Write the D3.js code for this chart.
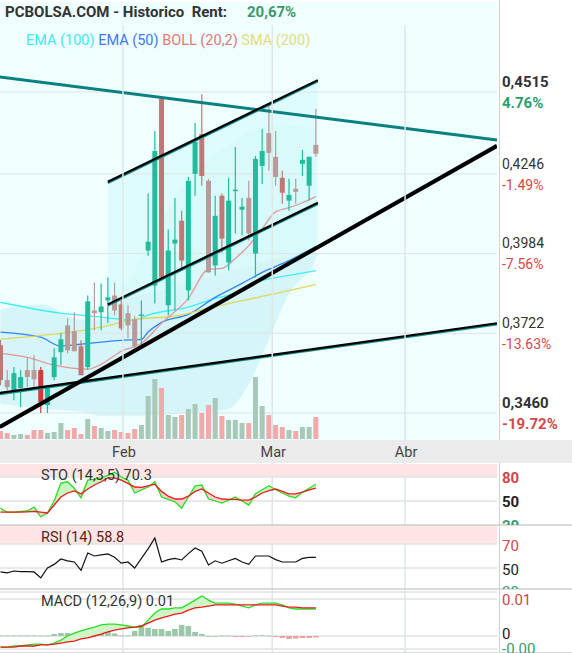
<!DOCTYPE html>
<html><head><meta charset="utf-8">
<script src="https://cdn.jsdelivr.net/npm/d3@7"></script>
<style>body{margin:0;background:#fff}svg{display:block;font-family:Roboto,"Noto Sans",sans-serif}</style>
</head><body><svg id="c" width="572" height="653"></svg>
<script>
// ---- data ----
const opens  = [.3683,.3568,.3535,.3542,.3601,.3601,.3601,.3486,.3578,.3660,.3748,.3729,.3679,.3611,.3797,.3791,.3830,.3846,.3817,.3788,.3768,.3781,.3994,.3879,.4492,.3814,.4017,.4092,.3863,.4246,.4377,.4223,.3945,.4174,.3955,.4190,.4128,.4167,.3984,.4272,.4380,.4302,.4233,.4158,.4197,.4279,.4207,.4341];
const highs  = [.3700,.3601,.3611,.3601,.3643,.3650,.3611,.3552,.3673,.3722,.3771,.3791,.3699,.3846,.3889,.3886,.3905,.3889,.3830,.3814,.3778,.3830,.4181,.4387,.4498,.4063,.4167,.4125,.4236,.4413,.4508,.4230,.4174,.4181,.4233,.4334,.4167,.4223,.4305,.4393,.4475,.4387,.4256,.4230,.4230,.4325,.4302,.4459];
const lows   = [.3551,.3535,.3503,.3480,.3545,.3542,.3460,.3460,.3568,.3617,.3656,.3663,.3591,.3601,.3732,.3732,.3755,.3781,.3732,.3706,.3666,.3683,.3977,.3820,.3895,.3781,.3797,.3935,.3830,.4174,.4207,.3922,.3912,.3987,.3928,.4050,.4043,.4027,.3905,.4213,.4256,.4207,.4148,.4125,.4148,.4239,.4158,.4302];
const closes = [.3568,.3545,.3591,.3578,.3578,.3571,.3496,.3542,.3643,.3702,.3666,.3663,.3584,.3827,.3788,.3810,.3840,.3797,.3738,.3748,.3679,.3784,.4023,.4321,.3905,.3994,.4030,.3961,.4223,.4351,.4239,.3922,.4108,.4033,.4158,.4194,.4138,.4050,.4295,.4321,.4315,.4236,.4184,.4177,.4187,.4292,.4302,.4312];
const volumes = [8,6,4,5,4,9,9,6,7,16,9,11,5,20,13,11,8,9,7,6,10,14,43,60,51,24,22,24,30,35,26,34,41,23,19,19,16,16,62,33,24,14,12,9,8,12,12,22];
// sparse indicator readings [index, price]
const ema100 = [[0,.3824],[9,.3788],[15,.3775],[20,.3765],[22,.3782],[28,.3808],[32,.3837],[35,.3853],[38,.3889],[43,.3912],[47,.3928]];
const ema50  = [[0,.3726],[6,.3709],[9,.3680],[12,.3686],[18,.3699],[21,.3702],[22,.3726],[24,.3758],[28,.3784],[32,.3840],[36,.3886],[39,.3922],[43,.3961],[47,.4007]];
const sma200 = [[0,.3703],[8,.3719],[15,.3742],[20,.3768],[26,.3778],[32,.3810],[39,.3843],[47,.3882]];
const bollMid = [[0,.3656],[4,.3643],[8,.3617],[13,.3604],[15,.3620],[18,.3663],[21,.3689],[24,.3755],[28,.3837],[31,.3932],[33,.3935],[35,.3968],[37,.4010],[39,.4066],[41,.4121],[43,.4135],[45,.4151],[47,.4171]];
const bollUp  = [[0,.3800],[6,.3817],[12,.3767],[15,.3767],[18,.3866],[21,.3964],[24,.4095],[28,.4226],[33,.4325],[37,.4384],[42,.4407],[47,.4390]];
const bollLow = [[0,.3490],[6,.3474],[12,.3464],[15,.3451],[21,.3451],[30,.3464],[34,.3474],[37,.3555],[40,.3702],[43,.3853],[47,.3968]];
// trend lines [i0,p0,i1,p1]
const trendTeal  = [[-0.1,.4564,74,.4357],[-0.1,.3526,74,.3755]];
const channel    = [[16,.4220,47.3,.4554],[16,.3817,47.3,.4151]];
const bigLine    = [-0.1,.3414,74,.4338];
const priceTicks = [.4515,.4246,.3984,.3722,.3460];
const priceLabels = ["0,4515","0,4246","0,3984","0,3722","0,3460"];
const pctLabels = ["4.76%","-1.49%","-7.56%","-13.63%","-19.72%"];
const months = [["Feb",18.25],["Mar",40.5],["Abr",60.3]];
const stoK = [41,36,36,37,37.5,42.5,30,35,50,72.5,74,66,54,76,77,79,82,86,80,76,60,64,67.5,74,55,52,49,41,55,69,70,52.5,50,47.5,51,55,50,45,59,64,69,64,60,56,54,61,66,71];
const stoD = [36,36,36,36,36.5,37,36,35,45,55,60,62.5,59,65,70,74,79,79,76,72,67.5,67,69,71,62,56,52.5,52.5,56,62,65,60,55,52.5,52,52,51,51,55,60,63,65,62,59,59,61,64,66];
const rsi = [46.7,46,47.5,47,47,46.7,41.7,50,53,57.5,56,55,48,62.5,60,61,61.7,59,54,55,50,58,66,75,55,57,58,56.7,62,66.7,64,52.5,56,54,56,58,55,53,60,60,60,57,55,55,55,58,58.8,58.8];
const macd = [-.0030,-.0030,-.0027,-.0027,-.0024,-.0022,-.0022,-.0024,-.0019,-.0011,0,.0008,.0014,.0019,.0024,.0030,.0032,.0032,.0030,.0027,.0024,.0024,.0043,.0062,.0073,.0073,.0076,.0076,.0086,.0097,.0108,.0097,.0089,.0089,.0089,.0086,.0081,.0076,.0084,.0089,.0089,.0089,.0084,.0076,.0073,.0073,.0073,.0073];
const signal = [-.0030,-.0030,-.0030,-.0027,-.0027,-.0027,-.0024,-.0024,-.0022,-.0019,-.0016,-.0014,-.0008,-.0005,0,.0005,.0011,.0016,.0019,.0022,.0024,.0027,.0035,.0043,.0049,.0054,.0059,.0062,.0070,.0076,.0078,.0081,.0084,.0084,.0084,.0084,.0084,.0084,.0084,.0084,.0084,.0084,.0081,.0078,.0078,.0076,.0076,.0076];
const hist = [.00014,.00014,.00014,.00014,.00014,.00014,.0001,.0001,.00054,.0008,.0008,.00068,.00135,.0016,.0016,.0016,.00135,.00068,.00014,.00014,.00135,.003,.0022,.0019,.0019,.00135,.0019,.003,.0027,.0011,.00054,0,0,.0001,.0001,-.00027,-.00027,-.00014,.00014,.00022,.0001,-.00027,-.00054,-.0008,-.00068,-.00054,-.00054,-.0004];

// ---- layout ----
const svg = d3.select("#c");
const W = 497;
const x = d3.scaleLinear().domain([0,74]).range([0.5,497]);
const y = d3.scaleLinear().domain([.346,.4515]).range([413,92]);
const vy = d3.scaleLinear().domain([0,62]).range([439,377]);
svg.append("defs").append("clipPath").attr("id","mc").append("rect").attr("x",0).attr("y",2).attr("width",W).attr("height",438);

svg.append("rect").attr("x",0).attr("y",2).attr("width",W).attr("height",438).attr("fill","#effefe");
const g = svg.append("g").attr("clip-path","url(#mc)");

// bollinger band fill
g.append("path").attr("fill","#d3f4f7").attr("opacity",0.9)
 .attr("d", d3.line().curve(d3.curveMonotoneX)(bollUp.map(d=>[x(d[0]),y(d[1])]).concat(bollLow.slice().reverse().map(d=>[x(d[0]),y(d[1])]))));
// channel fill
const c0=channel[0], c1=channel[1];
g.append("path").attr("fill","#d8fbfc").attr("opacity",0.75)
 .attr("d", d3.line()([[x(c0[0]),y(c0[1])],[x(c0[2]),y(c0[3])],[x(c0[2]),y(bigLine[1]+(bigLine[3]-bigLine[1])*(c0[2]-bigLine[0])/(bigLine[2]-bigLine[0]))],[x(c0[0]),y(c1[1])]]));

// grid
priceTicks.forEach(p=>g.append("line").attr("x1",0).attr("x2",W).attr("y1",y(p)).attr("y2",y(p)).attr("stroke","#dde6e6").attr("stroke-width",1));
months.forEach(m=>svg.append("line").attr("x1",x(m[1])).attr("x2",x(m[1])).attr("y1",25).attr("y2",653).attr("stroke","#dfe6e6").attr("stroke-width",1.5));

// volume
const bw = 5;
g.selectAll(".vol").data(volumes).join("rect")
 .attr("x",(d,i)=>x(i)-bw/2).attr("width",bw).attr("y",d=>vy(d)).attr("height",d=>vy(0)-vy(d))
 .attr("fill",(d,i)=>closes[i]>=opens[i]?"#a9c9b8":"#f2a9a9");

// indicator lines
const pl = d3.line().x(d=>x(d[0])).y(d=>y(d[1])).curve(d3.curveMonotoneX);
[[ema100,"#3ef0f4"],[ema50,"#2e86f0"],[sma200,"#e0d660"],[bollMid,"#e09898"]].forEach(([a,c])=>
 g.append("path").attr("d",pl(a)).attr("fill","none").attr("stroke",c).attr("stroke-width",1.3));

// candles
const idx = d3.range(opens.length);
function col(i){ if(i===6) return "#d23a3a"; return closes[i]>=opens[i]?"#22bc9c":(i%3===0?"#c07876":"#b89a9a"); }
g.selectAll(".wick").data(idx).join("line")
 .attr("x1",i=>x(i)).attr("x2",i=>x(i)).attr("y1",i=>y(highs[i])).attr("y2",i=>y(lows[i]))
 .attr("stroke",i=>col(i)).attr("stroke-width",1.2);
g.selectAll(".body").data(idx).join("rect")
 .attr("x",i=>x(i)-2.5).attr("width",5)
 .attr("y",i=>y(Math.max(opens[i],closes[i])))
 .attr("height",i=>Math.max(1.5,Math.abs(y(opens[i])-y(closes[i]))))
 .attr("fill",i=>col(i));

// trend lines
function tl(t,stroke,w,shadow){
  if(shadow) g.append("line").attr("x1",x(t[0])).attr("y1",y(t[1])+1.2).attr("x2",x(t[2])).attr("y2",y(t[3])+1.2).attr("stroke",shadow).attr("stroke-width",w);
  g.append("line").attr("x1",x(t[0])).attr("y1",y(t[1])).attr("x2",x(t[2])).attr("y2",y(t[3])).attr("stroke",stroke).attr("stroke-width",w);
}
tl(trendTeal[0],"#0a8080",3);
tl(trendTeal[1],"#000",2.2,"#1a8a8a");
channel.forEach(c=>tl(c,"#000",2.2,"#1a8a8a"));
tl(bigLine,"#000",4);

// right axis
svg.append("line").attr("x1",499.5).attr("x2",499.5).attr("y1",0).attr("y2",653).attr("stroke","#d0d0d0");
priceTicks.forEach((p,i)=>{
  const bold = i===0||i===priceTicks.length-1;
  svg.append("text").attr("x",502).attr("y",y(p)-10).attr("dy","0.35em").text(priceLabels[i])
    .attr("font-size",bold?15:14).attr("font-weight",bold?"bold":"normal").attr("fill","#333");
  svg.append("text").attr("x",502).attr("y",y(p)+11).attr("dy","0.35em").text(pctLabels[i])
    .attr("font-size",bold?15:14).attr("font-weight",bold?"bold":"normal").attr("fill",i===0?"#2e9e70":"#d44848");
});

// title & legend
svg.append("text").attr("x",5).attr("y",12).attr("dy","0.35em").attr("font-size",15).attr("font-weight","bold").attr("fill","#333").attr("xml:space","preserve").text("PCBOLSA.COM - Historico  Rent:");
svg.append("text").attr("x",247).attr("y",12).attr("dy","0.35em").attr("font-size",15).attr("font-weight","bold").attr("fill","#3a9a6e").text("20,67%");
const leg = svg.append("text").attr("x",26).attr("y",40).attr("dy","0.35em").attr("font-size",14.5);
[["EMA (100) ","#44e8f2"],["EMA (50) ","#3f78f0"],["BOLL (20,2) ","#e07878"],["SMA (200)","#e6da7e"]].forEach(([t,c])=>leg.append("tspan").attr("fill",c).attr("xml:space","preserve").text(t));

// date axis strip
svg.append("rect").attr("x",0).attr("y",440).attr("width",572).attr("height",23).attr("fill","#ebebeb");
months.forEach(m=>svg.append("text").attr("x",x(m[1])+1).attr("y",452).attr("dy","0.35em").attr("text-anchor","middle").attr("font-size",14.5).attr("fill","#444").text(m[0]));

// ---- lower panels ----
function panel(top,bottom,ys,ticks,tickCols,band,label){
  const pg = svg.append("g");
  const cid = "cp"+top;
  svg.select("defs").append("clipPath").attr("id",cid).append("rect").attr("x",0).attr("y",top).attr("width",W).attr("height",bottom-top);
  if(band!==null) pg.append("rect").attr("x",0).attr("width",W).attr("y",top+1).attr("height",ys(band)-top-1).attr("fill","#fde5e5");
  ticks.forEach(t=>{
    pg.append("line").attr("x1",0).attr("x2",W).attr("y1",ys(t[0])).attr("y2",ys(t[0])).attr("stroke","#e2e2e2").attr("stroke-width",1.5);
  });
  svg.append("line").attr("x1",0).attr("x2",572).attr("y1",bottom).attr("y2",bottom).attr("stroke","#cfcfcf").attr("stroke-width",1.5);
  svg.select("defs").append("clipPath").attr("id","cl"+top).append("rect").attr("x",500).attr("y",top).attr("width",72).attr("height",bottom-top);
  const lab = svg.append("g").attr("clip-path",`url(#${"cl"+top})`);
  ticks.forEach((t,i)=>lab.append("text").attr("x",502).attr("y",ys(t[0])+t[2]).attr("dy","0.35em").attr("font-size",15).attr("font-weight",t[3]||"normal").attr("fill",tickCols[i]).text(t[1]));
  const inner = svg.append("g").attr("clip-path",`url(#${cid})`);
  svg.append("text").attr("x",41).attr("y",top+12).attr("dy","0.35em").attr("font-size",14.5).attr("fill",label[1]).text(label[0]);
  return inner;
}
// STO
const sy = d3.scaleLinear().domain([50,80]).range([501,477]);
const sg = panel(463,525,sy,[[80,"80",1,"bold"],[50,"50",1,"bold"],[20,"20",1,"bold"]],["#d04646","#222","#3a9a6e"],80,["STO (14,3,5) 70.3","#333"]);
sg.append("path").attr("fill","#c8f5c0").attr("d",d3.area().x((d,i)=>x(i)).y0((d,i)=>sy(stoD[i])).y1((d,i)=>sy(Math.max(d,stoD[i])))(stoK));
sg.append("path").attr("fill","#f8cfcf").attr("d",d3.area().x((d,i)=>x(i)).y0((d,i)=>sy(stoD[i])).y1((d,i)=>sy(Math.min(d,stoD[i])))(stoK));
sg.append("path").attr("fill","none").attr("stroke","#22e022").attr("stroke-width",1.3).attr("d",d3.line().x((d,i)=>x(i)).y(d=>sy(d))(stoK));
sg.append("path").attr("fill","none").attr("stroke","#f01818").attr("stroke-width",1.3).attr("d",d3.line().x((d,i)=>x(i)).y(d=>sy(d))(stoD));
// RSI
const ry = d3.scaleLinear().domain([50,70]).range([568,544]);
const rg = panel(525,589,ry,[[70,"70",2],[50,"50",2],[30,"30",0]],["#d04646","#222","#3a9a6e"],70,["RSI (14) 58.8","#5a2222"]);
rg.append("path").attr("fill","none").attr("stroke","#111").attr("stroke-width",1.2).attr("d",d3.line().x((d,i)=>x(i)).y(d=>ry(d))(rsi));
// MACD
const my = d3.scaleLinear().domain([0,.01]).range([636,599]);
const mg = panel(589,653,my,[[.01,"0.01",1],[0,"0",-2],[-.0035,"-0.00",0]],["#d04646","#222","#3a9a6e"],null,["MACD (12,26,9) 0.01","#333"]);
mg.selectAll(".h").data(hist).join("rect").attr("x",(d,i)=>x(i)-2.8).attr("width",5.6)
 .attr("y",d=>Math.min(my(d),my(0))).attr("height",d=>Math.max(0.8,Math.abs(my(d)-my(0)))).attr("fill",d=>d>=0?"#9cc8aa":"#e8a2a2");
mg.append("path").attr("fill","#d0f5c8").attr("d",d3.area().x((d,i)=>x(i)).y0((d,i)=>my(signal[i])).y1((d,i)=>my(Math.max(d,signal[i])))(macd));
mg.append("path").attr("fill","none").attr("stroke","#22e022").attr("stroke-width",1.3).attr("d",d3.line().x((d,i)=>x(i)).y(d=>my(d))(macd));
mg.append("path").attr("fill","none").attr("stroke","#f01818").attr("stroke-width",1.3).attr("d",d3.line().x((d,i)=>x(i)).y(d=>my(d))(signal));
</script></body></html>
